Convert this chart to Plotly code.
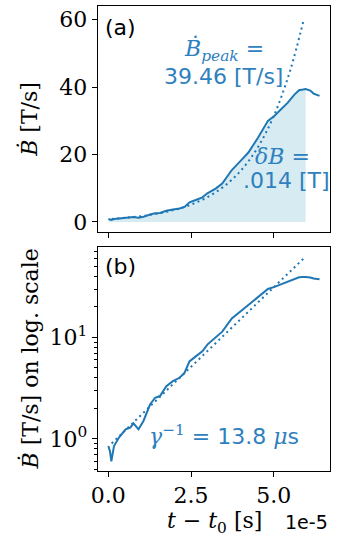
import plotly.graph_objects as go

# ---- data (time in units of 1e-5 s) ----
t = [0.00, 0.05, 0.09, 0.17, 0.32, 0.52, 0.66, 0.76, 0.91, 1.06, 1.26, 1.41, 1.56,
     1.75, 1.95, 2.15, 2.30, 2.45, 2.64, 2.84, 2.99, 3.24, 3.44, 3.73, 4.03, 4.23,
     4.52, 4.82, 5.02, 5.22, 5.42, 5.62, 5.76, 5.88, 5.96, 6.10, 6.20, 6.38]
bdot = [0.85, 0.75, 0.60, 0.85, 1.03, 1.24, 1.29, 1.42, 1.24, 1.50, 2.18, 2.54, 2.64,
        3.30, 3.70, 4.00, 4.46, 5.80, 6.50, 7.30, 8.50, 9.90, 11.4, 15.4, 18.5, 20.6,
        25.0, 30.0, 31.5, 33.5, 35.4, 37.8, 39.1, 39.3, 39.46, 39.0, 38.1, 37.4]
peak_index = 34

fit_t = [0.1, 0.5, 1.0, 1.5, 2.0, 2.5, 3.0, 3.5, 4.0, 4.5, 5.0, 5.5, 5.9]
fit_y = [0.90, 1.21, 1.73, 2.49, 3.58, 5.14, 7.39, 10.6, 15.2, 21.9, 31.5, 45.2, 60.0]

lin_ticks = [0, 20, 40, 60]
x_ticks = [0, 2.5, 5]
x_ticktext = ["0.0", "2.5", "5.0"]
log_ticks = [1, 10]
log_ticktext = ["10<sup>0</sup>", "10<sup>1</sup>"]
log_minor = [0.5, 0.6, 0.7, 0.8, 0.9, 2, 3, 4, 5, 6, 7, 8, 9, 20, 30, 40, 50, 60, 70]

W, H = 337, 543
def px(x):
    return x / W
def py(y):
    return 1 - y / H

LINE = "#1f77b4"
FILL = "#d6ebf2"
TXT = "#2e80be"
SERIF = "'DejaVu Serif', serif"
SANS = "'DejaVu Sans', sans-serif"
FS = 22

fig = go.Figure()

# panel (a)
fig.add_trace(go.Scatter(x=t[:peak_index + 1], y=bdot[:peak_index + 1], mode="lines",
                         fill="tozeroy", fillcolor=FILL, line=dict(width=0, color=FILL),
                         xaxis="x", yaxis="y", hoverinfo="skip"))
fig.add_trace(go.Scatter(x=t, y=bdot, mode="lines", line=dict(color=LINE, width=2),
                         xaxis="x", yaxis="y"))
fig.add_trace(go.Scatter(x=fit_t, y=fit_y, mode="lines", line_shape="spline",
                         line=dict(color=LINE, width=2, dash="2px,3.5px"),
                         xaxis="x", yaxis="y"))
# panel (b)
fig.add_trace(go.Scatter(x=t, y=bdot, mode="lines", line=dict(color=LINE, width=2),
                         xaxis="x2", yaxis="y2"))
fig.add_trace(go.Scatter(x=fit_t, y=fit_y, mode="lines",
                         line=dict(color=LINE, width=2, dash="2px,3.5px"),
                         xaxis="x2", yaxis="y2"))

xdom = [px(92.7), px(330)]
common = dict(showline=True, mirror=True, linecolor="black", linewidth=1,
              showgrid=False, zeroline=False, ticks="outside", ticklen=5,
              tickcolor="black", tickwidth=1,
              tickfont=dict(family=SERIF, size=FS, color="black"))

fig.update_layout(
    width=W, height=H, margin=dict(l=0, r=0, t=0, b=0),
    paper_bgcolor="white", plot_bgcolor="white", showlegend=False,
    font=dict(family=SERIF),
    xaxis=dict(domain=xdom, range=[-0.32, 6.70], anchor="y", tickmode="array",
               tickvals=x_ticks, showticklabels=False, **common),
    yaxis=dict(domain=[py(233.3), py(6)], range=[-3.0, 64.1], anchor="x",
               tickmode="array", tickvals=lin_ticks, **common),
    xaxis2=dict(domain=xdom, range=[-0.32, 6.70], anchor="y2", tickmode="array",
                tickvals=x_ticks, ticktext=x_ticktext, **common),
    yaxis2=dict(domain=[py(473.3), py(248)], type="log", range=[-0.314, 1.895],
                anchor="x2", tickmode="array", tickvals=log_ticks,
                ticktext=log_ticktext,
                minor=dict(tickmode="array", tickvals=log_minor, ticks="outside",
                           ticklen=3, tickcolor="black", tickwidth=1, showgrid=False),
                **common),
)

def ann(x, y, text, size=FS, family=SANS, color="black", xanchor="center",
        yanchor="middle", angle=0):
    fig.add_annotation(x=px(x), y=py(y), xref="paper", yref="paper", text=text,
                       showarrow=False, xanchor=xanchor, yanchor=yanchor,
                       textangle=angle, font=dict(family=family, size=size, color=color))

ann(98, 28, "(a)", xanchor="left")
ann(98, 268, "(b)", xanchor="left")
ann(222, 50, "<i>Ḃ</i><sub><i>peak</i></sub> =", family=SERIF, color=TXT)
ann(221, 77, "39.46 [T/s]", color=TXT)
ann(281, 157, "<i>δB</i> =", family=SERIF, color=TXT)
ann(285, 182, ".014 [T]", color=TXT)
ann(222, 437, "<span style=\"font-family:'DejaVu Serif'\"><i>γ</i><sup>−1</sup> =</span> 13.8 "
    "<span style=\"font-family:'DejaVu Serif'\"><i>μ</i></span>s", color=TXT)
ann(23, 120, "<i>Ḃ</i> [T/s]", family=SERIF, angle=-90)
ann(23, 361, "<i>Ḃ</i> [T/s] on log. scale", family=SERIF, angle=-90)
ann(212, 525, "<i>t</i> − <i>t</i><sub>0</sub> [s]", family=SERIF)
ann(330, 525, "1e-5", xanchor="right", size=19)

fig.write_html("out.html")
